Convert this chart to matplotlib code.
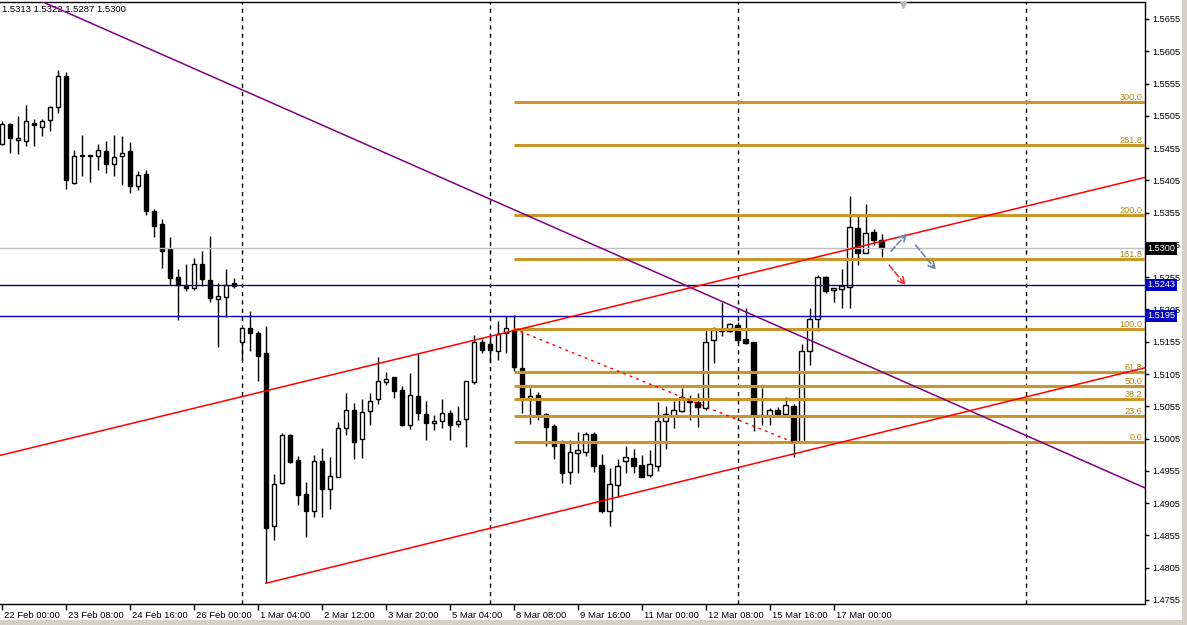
import matplotlib
matplotlib.use('Agg')
import matplotlib.pyplot as plt
import matplotlib.transforms as mtransforms
from matplotlib.patches import Rectangle

# 4H bars, bar 0 = 22 Feb 00:00
opens = [1.5462, 1.5492, 1.5467, 1.5466, 1.5494, 1.5488, 1.5498, 1.5518, 1.5566, 1.5401,
         1.5444, 1.5443, 1.5442, 1.5450, 1.5430, 1.5442, 1.5450, 1.5397, 1.5415, 1.5358,
         1.5337, 1.5299, 1.5255, 1.5241, 1.5239, 1.5275, 1.5251, 1.5222, 1.5224, 1.5246,
         1.5154, 1.5176, 1.5168, 1.5138, 1.4869, 1.4936, 1.5011, 1.4972, 1.4919, 1.4893,
         1.4970, 1.4927, 1.4946, 1.5021, 1.5049, 1.5004, 1.5047, 1.5066, 1.5092, 1.5100,
         1.5080, 1.5026, 1.5071, 1.5043, 1.5029, 1.5032, 1.5044, 1.5027, 1.5035, 1.5092,
         1.5155, 1.5152, 1.5141, 1.5168, 1.5174, 1.5115, 1.5067, 1.5073, 1.5043, 1.5025,
         1.4997, 1.4953, 1.4982, 1.4985, 1.5012, 1.4964, 1.4893, 1.4933, 1.4971, 1.4975,
         1.4964, 1.4948, 1.4963, 1.5033, 1.5040, 1.5047, 1.5063, 1.5061, 1.5052, 1.5157,
         1.5174, 1.5171, 1.5181, 1.5159, 1.5154, 1.5041, 1.5040, 1.5050, 1.5043, 1.5056,
         1.4999, 1.5140, 1.5190, 1.5255, 1.5235, 1.5236, 1.5240, 1.5331, 1.5293, 1.5325,
         1.5313]
highs = [1.5497, 1.5494, 1.5505, 1.5522, 1.5500, 1.5500, 1.5520, 1.5576, 1.5573, 1.5452,
         1.5475, 1.5445, 1.5462, 1.5466, 1.5476, 1.5474, 1.5464, 1.5419, 1.5421, 1.5360,
         1.5345, 1.5317, 1.5268, 1.5275, 1.5285, 1.5296, 1.5319, 1.5246, 1.5268, 1.5254,
         1.5177, 1.5203, 1.5172, 1.5179, 1.4950, 1.5014, 1.5012, 1.4978, 1.4938, 1.4980,
         1.4990, 1.4977, 1.5030, 1.5076, 1.5060, 1.5066, 1.5075, 1.5131, 1.5108, 1.5101,
         1.5086, 1.5107, 1.5136, 1.5063, 1.5041, 1.5066, 1.5049, 1.5055, 1.5094, 1.5165,
         1.5159, 1.5165, 1.5187, 1.5195, 1.5196, 1.5172, 1.5084, 1.5077, 1.5044, 1.5028,
         1.5003, 1.5003, 1.5015, 1.5015, 1.5015, 1.4981, 1.4959, 1.4973, 1.4994, 1.4989,
         1.4980, 1.4987, 1.5062, 1.5056, 1.5064, 1.5084, 1.5073, 1.5075, 1.5173, 1.5178,
         1.5217, 1.5184, 1.5186, 1.5207, 1.5155, 1.5084, 1.5053, 1.5054, 1.5070, 1.5059,
         1.5151, 1.5207, 1.5258, 1.5257, 1.5239, 1.5267, 1.5381, 1.5350, 1.5368, 1.5330,
         1.5322]
lows = [1.5460, 1.5448, 1.5446, 1.5458, 1.5459, 1.5473, 1.5482, 1.5510, 1.5392, 1.5400,
        1.5411, 1.5403, 1.5421, 1.5417, 1.5412, 1.5398, 1.5386, 1.5390, 1.5352, 1.5318,
        1.5270, 1.5243, 1.5188, 1.5233, 1.5235, 1.5242, 1.5216, 1.5147, 1.5194, 1.5239,
        1.5127, 1.5141, 1.5095, 1.4781, 1.4848, 1.4934, 1.4967, 1.4902, 1.4852, 1.4884,
        1.4884, 1.4896, 1.4945, 1.5011, 1.4974, 1.4975, 1.5026, 1.5059, 1.5088, 1.5068,
        1.5024, 1.5020, 1.5034, 1.5003, 1.5019, 1.5022, 1.5003, 1.5023, 1.4992, 1.5089,
        1.5138, 1.5122, 1.5127, 1.5137, 1.5110, 1.5045, 1.5028, 1.5034, 1.4994, 1.4973,
        1.4937, 1.4934, 1.4952, 1.4978, 1.4953, 1.4890, 1.4870, 1.4915, 1.4951, 1.4951,
        1.4945, 1.4945, 1.4955, 1.4989, 1.5022, 1.5046, 1.5034, 1.5023, 1.5050, 1.5122,
        1.5164, 1.5170, 1.5153, 1.5151, 1.5017, 1.5026, 1.5026, 1.5040, 1.5042, 1.4976,
        1.4998, 1.5119, 1.5171, 1.5230, 1.5217, 1.5207, 1.5208, 1.5274, 1.5292, 1.5305,
        1.5287]
closes = [1.5493, 1.5470, 1.5471, 1.5497, 1.5490, 1.5497, 1.5519, 1.5566, 1.5405, 1.5442,
          1.5442, 1.5444, 1.5452, 1.5431, 1.5441, 1.5448, 1.5397, 1.5413, 1.5358, 1.5335,
          1.5295, 1.5254, 1.5243, 1.5239, 1.5275, 1.5253, 1.5223, 1.5226, 1.5243, 1.5242,
          1.5176, 1.5168, 1.5133, 1.4867, 1.4935, 1.5010, 1.4969, 1.4917, 1.4893, 1.4970,
          1.4927, 1.4947, 1.5021, 1.5050, 1.5000, 1.5046, 1.5063, 1.5094, 1.5098, 1.5079,
          1.5026, 1.5073, 1.5044, 1.5029, 1.5032, 1.5045, 1.5026, 1.5033, 1.5094, 1.5154,
          1.5142, 1.5142, 1.5167, 1.5176, 1.5116, 1.5066, 1.5071, 1.5043, 1.5023, 1.4994,
          1.4951, 1.4984, 1.4987, 1.5012, 1.4963, 1.4893, 1.4935, 1.4963, 1.4976, 1.4963,
          1.4946, 1.4966, 1.5032, 1.5043, 1.5049, 1.5069, 1.5062, 1.5054, 1.5154, 1.5174,
          1.5172, 1.5183, 1.5158, 1.5153, 1.5040, 1.5040, 1.5049, 1.5043, 1.5057, 1.4999,
          1.5141, 1.5191, 1.5255, 1.5233, 1.5238, 1.5241, 1.5332, 1.5292, 1.5323, 1.5313,
          1.5300]

xtick_bars = [0, 8, 16, 24, 32, 40, 48, 56, 64, 72, 80, 88, 96, 104]
xtick_labels = ['22 Feb 00:00', '23 Feb 08:00', '24 Feb 16:00', '26 Feb 00:00', '1 Mar 04:00',
                '2 Mar 12:00', '3 Mar 20:00', '5 Mar 04:00', '8 Mar 08:00', '9 Mar 16:00',
                '11 Mar 00:00', '12 Mar 08:00', '15 Mar 16:00', '17 Mar 00:00']
price_ticks = [1.4755 + 0.005 * k for k in range(19)]
separators = [30, 61, 92, 128]

# drawn objects (bar index, price)
purple_line = [(5, 1.5682), (143, 1.4928)]
channel_upper = [(-0.25, 1.4979), (143, 1.5410)]
channel_lower = [(33, 1.4781), (143, 1.5115)]
fib_start, fib_100, fib_0, fib_end_bar = 64, 1.5175, 1.4999, 99
fib_levels = [0.0, 23.6, 38.2, 50.0, 61.8, 100.0, 161.8, 200.0, 261.8, 300.0]
hlines = [(1.5300, '#C0C0C0', '#000000'), (1.5243, '#000080', '#0000C0'), (1.5195, '#0000C8', '#0000C0')]
blue_arrows = [((110.9, 1.5292), (113.4, 1.5326)), ((114.0, 1.5308), (117.0, 1.5263))]
red_arrow = ((110.7, 1.5277), (113.2, 1.5239))
header = '1.5313 1.5322 1.5287 1.5300'

plt.rcParams['font.family'] = ['Liberation Sans', 'DejaVu Sans']

fig = plt.figure(figsize=(11.87, 6.25), dpi=100)
ax = fig.add_axes([0, 21 / 625, 1145 / 1187, 602 / 625])
ax.set_xlim(-0.25, 142.9)
ax.set_ylim(1.47488, 1.56813)

# candles
for i in range(len(opens)):
    o, h, l, c = opens[i], highs[i], lows[i], closes[i]
    ax.vlines(i, l, h, color='black', lw=1, zorder=2)
    bottom = min(o, c)
    height = max(abs(c - o), 0.00003)
    face = 'white' if c >= o else 'black'
    ax.bar(i, height, bottom=bottom, width=0.6, facecolor=face, edgecolor='black', lw=1, zorder=3)

# period separators
for s in separators:
    ax.axvline(s, color='black', lw=1, ls=(0, (3, 3)), zorder=1)

# horizontal lines
for p, col, _ in hlines:
    ax.axhline(p, color=col, lw=1, zorder=4)

# fibonacci
fib_range = fib_100 - fib_0
for lv in fib_levels:
    p = fib_0 + fib_range * lv / 100
    ax.plot([fib_start, 142.9], [p, p], color='#C8962A', lw=2.2, zorder=4, solid_capstyle='butt')
    ax.text(0.998, p, '%.1f' % lv, transform=ax.get_yaxis_transform(), ha='right', va='bottom',
            fontsize=6.6, color='#B8860B', zorder=6)
ax.plot([fib_start, fib_end_bar], [fib_100, fib_0], color='red', lw=1, ls=(0, (2, 3)), zorder=5)

# trend lines
for pts, col in [(purple_line, '#800080'), (channel_upper, '#FF0000'), (channel_lower, '#FF0000')]:
    ax.plot([pts[0][0], pts[1][0]], [pts[0][1], pts[1][1]], color=col, lw=1.1, zorder=5)

# arrows
for a, b in blue_arrows:
    ax.annotate('', xy=b, xytext=a, arrowprops=dict(arrowstyle='->', color='#6C84A8', lw=1.2,
                                                    ls='--', mutation_scale=12), zorder=6)
ax.annotate('', xy=red_arrow[1], xytext=red_arrow[0],
            arrowprops=dict(arrowstyle='->', color='#FF3030', lw=1.2, ls='--', mutation_scale=12), zorder=6)

# axes styling
ax.spines['left'].set_visible(False)
for side in ['top', 'right', 'bottom']:
    ax.spines[side].set_linewidth(1)
ax.yaxis.tick_right()
ax.set_yticks(price_ticks)
ax.set_yticklabels(['%.4f' % p for p in price_ticks], fontsize=6.6)
ax.tick_params(axis='y', direction='out', length=3, pad=2, width=1)
ax.set_xticks(xtick_bars)
ax.set_xticklabels(xtick_labels, fontsize=6.8, ha='left')
ax.tick_params(axis='x', direction='out', length=4, pad=1, width=1)
offset = mtransforms.ScaledTranslation(2 / 100, 0, fig.dpi_scale_trans)
for lab in ax.get_xticklabels():
    lab.set_transform(lab.get_transform() + offset)

# price labels on the right scale
for p, _, box in hlines:
    ax.text(1.002, p, '%.4f' % p, transform=ax.get_yaxis_transform(), ha='left', va='center',
            fontsize=6.6, color='white', clip_on=False, zorder=10,
            bbox=dict(facecolor=box, edgecolor='none', pad=1.4))

ax.text(2 / 1145, 0.988, header, transform=ax.transAxes, ha='left', va='center', fontsize=6.8, color='black')
ax.text(458, 1.5609, '4HOUR', ha='center', va='center', fontsize=15, fontweight='bold', color='#FF0000')
ax.plot([112.6], [1.5677], marker='v', color='#B8B8B8', ms=5, clip_on=False, zorder=6)

# window frame strips
fig.patches.append(Rectangle((1182 / 1187, 0), 5 / 1187, 1, transform=fig.transFigure,
                             facecolor='#D4D0C8', edgecolor='none'))
fig.patches.append(Rectangle((0, 0), 1, 5 / 625, transform=fig.transFigure,
                             facecolor='#D4D0C8', edgecolor='none'))

fig.savefig('out.png', dpi=100)
